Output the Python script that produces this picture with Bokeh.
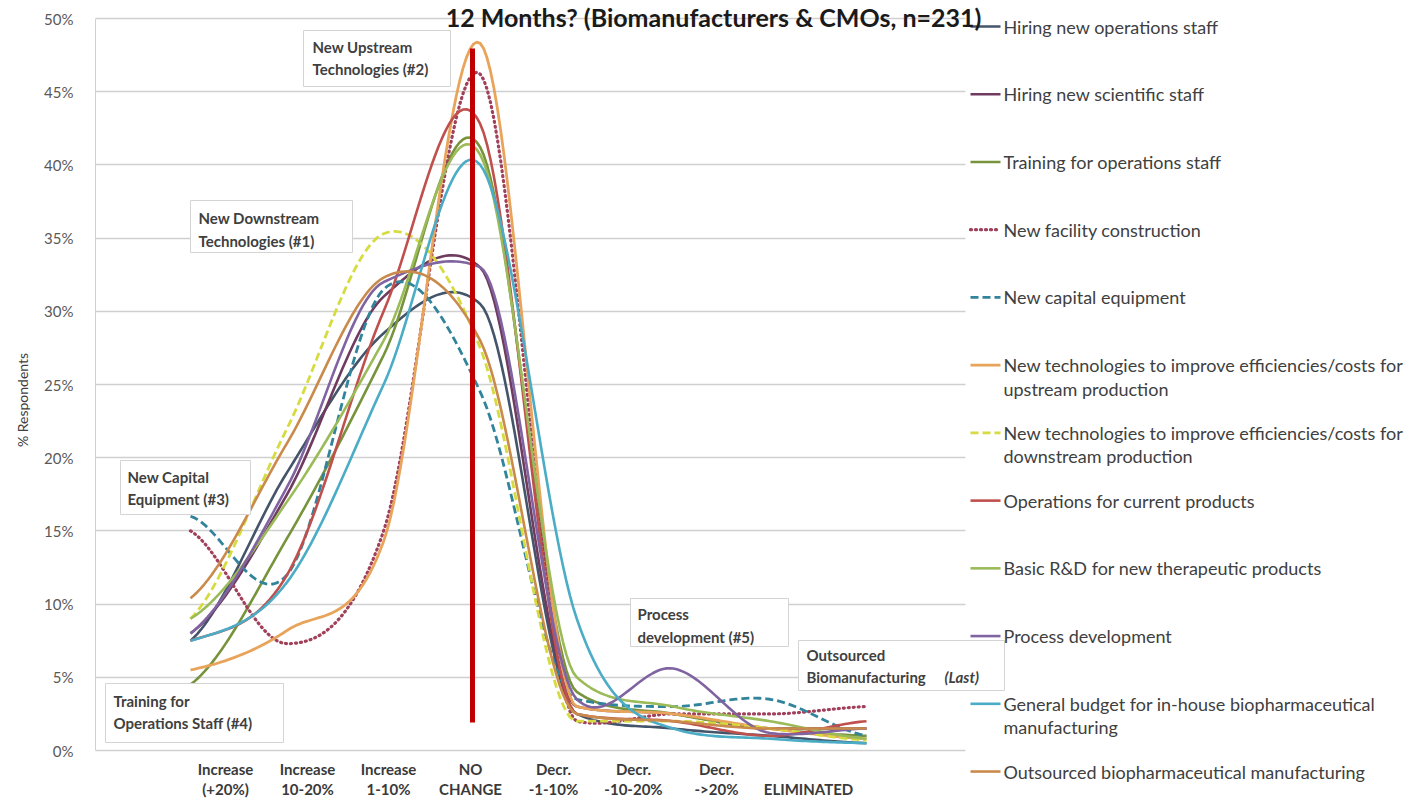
import numpy as np
from bokeh.plotting import figure
from bokeh.models import FixedTicker, PrintfTickFormatter
from bokeh.embed import file_html
from bokeh.resources import INLINE
from bokeh.core.properties import value

# ---------------- data ----------------
categories = ["Increase\n(+20%)", "Increase\n10-20%", "Increase\n1-10%", "NO\nCHANGE",
              "Decr.\n-1-10%", "Decr.\n-10-20%", "Decr.\n->20%", "\nELIMINATED"]

series_labels = [
    ["Hiring new operations staff"],
    ["Hiring new scientific staff"],
    ["Training for operations staff"],
    ["New facility construction"],
    ["New capital equipment"],
    ["New technologies to improve efficiencies/costs for", "upstream production"],
    ["New technologies to improve efficiencies/costs for", "downstream production"],
    ["Operations for current products"],
    ["Basic R&D for new therapeutic products"],
    ["Process development"],
    ["General budget for in-house biopharmaceutical", "manufacturing"],
    ["Outsourced biopharmaceutical manufacturing"],
]

hiring_ops      = [7.5, 19.0, 28.5, 30.5, 2.5, 1.5, 1.0, 0.5]
hiring_sci      = [8.0, 17.5, 31.0, 33.0, 3.0, 2.5, 1.5, 1.5]
training_ops    = [4.5, 14.5, 27.0, 41.2, 4.0, 2.5, 1.5, 1.0]
new_facility    = [15.0, 7.3, 15.0, 46.2, 2.0, 2.5, 2.5, 3.0]
capital_equip   = [16.0, 12.0, 31.5, 24.5, 3.5, 3.0, 3.5, 1.0]
upstream_tech   = [5.5, 8.2, 14.3, 48.3, 3.0, 2.5, 1.5, 0.8]
downstream_tech = [9.0, 22.0, 35.3, 27.5, 2.0, 2.0, 1.5, 0.7]
operations_curr = [7.5, 12.0, 30.0, 42.8, 2.5, 2.0, 1.0, 2.0]
basic_rd        = [9.0, 17.0, 28.0, 40.7, 5.0, 3.0, 2.0, 0.8]
process_dev     = [8.0, 18.0, 32.0, 33.0, 3.5, 5.6, 1.2, 1.5]
general_budget  = [7.5, 11.5, 25.0, 40.0, 9.0, 1.5, 0.8, 0.5]
outsourced      = [10.4, 21.0, 32.3, 28.0, 2.5, 2.0, 1.5, 1.5]

series_values = [hiring_ops, hiring_sci, training_ops, new_facility, capital_equip,
                 upstream_tech, downstream_tech, operations_curr, basic_rd,
                 process_dev, general_budget, outsourced]

y_ticks = [0, 5, 10, 15, 20, 25, 30, 35, 40, 45, 50]

title_text = "12 Months? (Biomanufacturers & CMOs, n=231)"
y_title = "% Respondents"

# ---------------- styles ----------------
colors = ["#44546A", "#6F3B5E", "#77933C", "#A0405A", "#31849B", "#E9A45C",
          "#D6DC40", "#C0504D", "#9BBB59", "#8064A2", "#4BACC6", "#C98A4B"]
dashes = ["solid", "solid", "solid", "1 4", "8 4", "solid",
          "8 4", "solid", "solid", "solid", "solid", "solid"]
widths = [2.6, 2.6, 2.6, 3.2, 2.8, 2.8, 2.8, 2.6, 2.6, 2.6, 2.6, 2.6]
cap_styles = ["butt", "butt", "butt", "round", "butt", "butt", "butt", "butt", "butt", "butt", "butt", "butt"]
FONT = "Lato"
TXT = "#404040"

# pixel -> data helpers (layout only)
PX0, PXU, PY0, PYU = 190.0, 96.57, 750.0, 14.64
def X(px): return (px - PX0) / PXU
def Y(py): return (PY0 - py) / PYU

# smoothing (Excel-like smoothed line through the data points)
def smooth(vals, n=28):
    v = np.asarray(vals, float)
    k = len(v)
    d = np.diff(v)
    m = np.empty(k)
    m[0] = d[0] / 2.0
    m[-1] = d[-1] / 2.0
    for i in range(1, k - 1):
        cr = (v[i + 1] - v[i - 1]) / 2.0
        lim = 3.0 * min(abs(d[i - 1]), abs(d[i]))
        m[i] = np.sign(cr) * min(abs(cr), lim)
    xs, ys = [], []
    for i in range(k - 1):
        t = np.linspace(0, 1, n, endpoint=(i == k - 2))
        h00 = 2 * t**3 - 3 * t**2 + 1
        h10 = t**3 - 2 * t**2 + t
        h01 = -2 * t**3 + 3 * t**2
        h11 = t**3 - t**2
        xs.extend(i + t)
        ys.extend(h00 * v[i] + h10 * m[i] + h01 * v[i + 1] + h11 * m[i + 1])
    return xs, ys

W, H = 1416, 799
p = figure(width=W, height=H, output_backend="svg", toolbar_location=None,
           x_axis_location=None,
           x_range=(X(95), X(1416)), y_range=(Y(799), Y(0)),
           min_border_left=95, min_border_right=0, min_border_top=0, min_border_bottom=0)
p.outline_line_color = None
p.background_fill_color = "white"
p.xgrid.grid_line_color = None
p.ygrid.grid_line_color = "#d0d0d0"
p.ygrid.grid_line_width = 1.5
yg = p.ygrid[0]
if "cross_bounds" in yg.properties():
    yg.cross_bounds = (X(95), X(965))
else:
    p.ygrid.grid_line_color = None
    p.segment(x0=[X(95)] * len(y_ticks), x1=[X(965)] * len(y_ticks), y0=y_ticks, y1=y_ticks,
              line_color="#d0d0d0", line_width=1.5)

# y axis
p.yaxis.ticker = FixedTicker(ticks=y_ticks)
p.yaxis.formatter = PrintfTickFormatter(format="%d%%")
p.yaxis.major_tick_out = 0
p.yaxis.major_tick_in = 0
p.yaxis.minor_tick_line_color = None
p.yaxis.axis_line_color = "#d0d0d0"
p.yaxis.bounds = (0, 50)
p.yaxis.major_label_standoff = 22
p.yaxis.major_label_text_font = FONT
p.yaxis.major_label_text_font_size = "15px"
p.yaxis.major_label_text_color = "#595959"
p.yaxis.axis_label = y_title
p.yaxis.axis_label_standoff = 10
p.yaxis.axis_label_text_font = FONT
p.yaxis.axis_label_text_font_size = "14px"
p.yaxis.axis_label_text_font_style = "normal"
p.yaxis.axis_label_text_color = TXT

# x category labels (two text rows, placed through the x scale)
label_px = [225, 307, 388, 470, 553, 633, 716, 808]
x_pos = [X(v) for v in label_px]
line1 = [c.split("\n")[0] for c in categories]
line2 = [c.split("\n")[1] for c in categories]
p.text(x=x_pos, y=[Y(768)] * len(x_pos), text=line1, text_font=value(FONT), text_font_size="15px",
       text_font_style="bold", text_color="#3a3a3a", text_align="center", text_baseline="middle")
p.text(x=x_pos, y=[Y(788)] * len(x_pos), text=line2, text_font=value(FONT), text_font_size="15px",
       text_font_style="bold", text_color="#3a3a3a", text_align="center", text_baseline="middle")

# data lines
for vals, col, dsh, lw, cap in zip(series_values, colors, dashes, widths, cap_styles):
    xs, ys = smooth(vals)
    p.line(xs, ys, line_color=col, line_width=lw, line_dash=dsh, line_cap=cap, line_join="round")

# red marker line at NO CHANGE
p.segment(x0=[X(472)], x1=[X(472)], y0=[Y(722)], y1=[Y(48)], line_color="#C00000", line_width=5)

# annotation boxes
boxes = [
    ((303, 30, 450, 86), 312, ["New Upstream", "Technologies (#2)"], [46, 68]),
    ((190, 200, 352, 252), 198, ["New Downstream", "Technologies (#1)"], [217, 240]),
    ((120, 460, 250, 514), 127, ["New Capital", "Equipment (#3)"], [476, 498]),
    ((105, 683, 283, 742), 113, ["Training for", "Operations Staff (#4)"], [700, 722]),
    ((630, 598, 788, 646), 637, ["Process", "development (#5)"], [613, 636]),
    ((798, 640, 1004, 690), 806, ["Outsourced", "Biomanufacturing"], [654, 676]),
]
for (l, t, r, b), tx, lines, ly in boxes:
    p.quad(left=[X(l)], right=[X(r)], top=[Y(t)], bottom=[Y(b)],
           fill_color="white", line_color="#d4d4d4", line_width=1)
    p.text(x=[X(tx)] * len(lines), y=[Y(v) for v in ly], text=lines,
           text_font=value(FONT), text_font_size="15px", text_font_style="bold",
           text_color=TXT, text_baseline="middle", text_align="left")
p.text(x=[X(944)], y=[Y(676)], text=["(Last)"], text_font=value(FONT), text_font_size="15px",
       text_font_style="bold italic", text_color=TXT, text_baseline="middle", text_align="left")

# legend (manual, right column)
for i, (lab, col, dsh, lw, cap) in enumerate(zip(series_labels, colors, dashes, widths, cap_styles)):
    yc = 26 + i * 67.73
    p.segment(x0=[X(970)], x1=[X(1000)], y0=[Y(yc)], y1=[Y(yc)],
              line_color=col, line_width=lw, line_dash=dsh, line_cap=cap)
    p.text(x=[X(1003)] * len(lab), y=[Y(yc + 23.5 * j) for j in range(len(lab))], text=lab,
           text_font=value(FONT), text_font_size="18px", text_color=TXT,
           text_baseline="middle", text_align="left")

# title line at the very top
p.text(x=[X(713)], y=[Y(1)], text=[title_text], text_font=value(FONT), text_font_size="25px",
       text_font_style="bold", text_color="#1a1a1a", text_align="center", text_baseline="top")

open("out.html", "w").write(file_html(p, INLINE))
